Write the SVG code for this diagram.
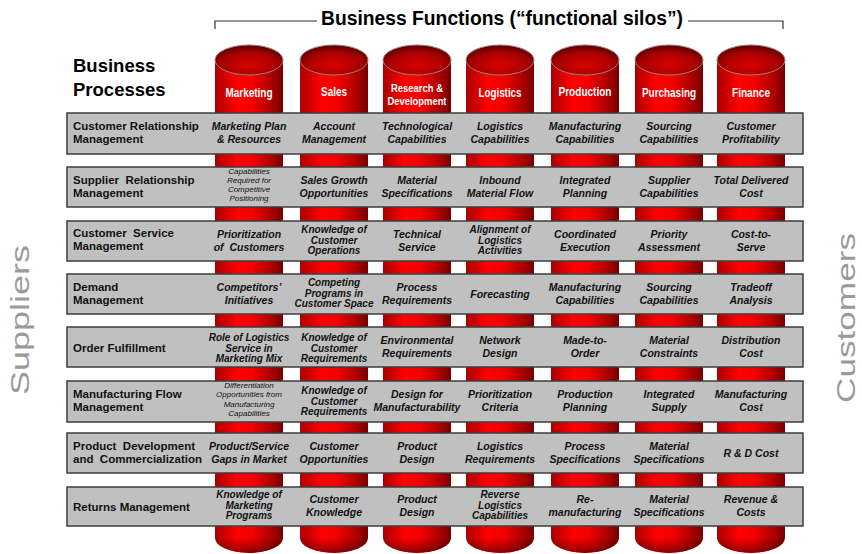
<svg xmlns="http://www.w3.org/2000/svg" xmlns:xlink="http://www.w3.org/1999/xlink" width="862" height="554" viewBox="0 0 862 554">
  <style>
    text { font-family: "Liberation Sans", Arial, sans-serif; }
    .hdr { font-size: 19.5px; font-weight: bold; fill: #000; }
    .side { font-size: 25px; fill: #9a9a9a; }
    .silo-lbl { font-size: 12.5px; font-weight: bold; fill: #fff; text-anchor: middle; }
    .bar { fill: #c0c0c0; stroke: #3c3c3c; stroke-width: 1.5; }
    .proc { font-size: 11.5px; font-weight: bold; fill: #111; }
    .cell { font-size: 10.5px; font-weight: bold; font-style: italic; fill: #111; text-anchor: middle; }
    .cell3 { font-size: 10px; font-weight: bold; font-style: italic; fill: #111; text-anchor: middle; }
    .tiny { font-size: 8px; font-style: italic; fill: #111; text-anchor: middle; }
    .bracket { fill: none; stroke: #333; stroke-width: 1.2; }
  </style>
  <defs>
    <linearGradient id="bodyGrad" x1="0" y1="0" x2="1" y2="0">
      <stop offset="0" stop-color="#a80000"/>
      <stop offset="0.32" stop-color="#ff0000"/>
      <stop offset="0.55" stop-color="#f20000"/>
      <stop offset="0.82" stop-color="#b00000"/>
      <stop offset="1" stop-color="#760000"/>
    </linearGradient>
    <radialGradient id="topGrad" cx="0.5" cy="0.65" r="0.62">
      <stop offset="0" stop-color="#d80000"/>
      <stop offset="0.65" stop-color="#a80000"/>
      <stop offset="1" stop-color="#5e0000"/>
    </radialGradient>
    <linearGradient id="baseShade" x1="0" y1="0" x2="0" y2="1">
      <stop offset="0" stop-color="#300000" stop-opacity="0"/>
      <stop offset="1" stop-color="#300000" stop-opacity="0.55"/>
    </linearGradient>
    <!-- one silo, centred on x = 0 -->
    <g id="silo">
      <rect x="-34" y="60" width="68" height="478" fill="url(#bodyGrad)"/>
      <path d="M-34,538 A34,15 0 0 0 34,538 Z" fill="url(#bodyGrad)"/>
      <path d="M-34,538 A34,15 0 0 0 34,538 Z" fill="url(#baseShade)"/>
      <ellipse cx="0" cy="60" rx="34" ry="15" fill="url(#topGrad)" stroke="#9a8080" stroke-width="1"/>
    </g>
  </defs>

  <rect width="862" height="554" fill="#fff"/>

  <!-- header bracket -->
  <g id="connectors">
    <path class="bracket" d="M215,29 V21 H317 M688,21 H783 V29"/>
  </g>
  <text class="hdr" x="502" y="25" text-anchor="middle" textLength="362" lengthAdjust="spacingAndGlyphs">Business Functions (“functional silos”)</text>

  <g id="title-processes">
    <text class="hdr" x="73" y="72" style="font-size:18.5px">Business</text>
    <text class="hdr" x="73" y="96" style="font-size:18.5px">Processes</text>
  </g>

  <!-- side labels -->
  <text class="side" transform="translate(29,320) rotate(-90)" text-anchor="middle" textLength="150" lengthAdjust="spacingAndGlyphs">Suppliers</text>
  <text class="side" transform="translate(855,318) rotate(-90)" text-anchor="middle" textLength="170" lengthAdjust="spacingAndGlyphs">Customers</text>

  <!-- functional silos -->
  <g id="silo-marketing"><use xlink:href="#silo" x="249"/><text class="silo-lbl" x="249" y="97" textLength="47" lengthAdjust="spacingAndGlyphs">Marketing</text></g>
  <g id="silo-sales"><use xlink:href="#silo" x="334"/><text class="silo-lbl" x="334" y="96" textLength="26" lengthAdjust="spacingAndGlyphs">Sales</text></g>
  <g id="silo-rnd"><use xlink:href="#silo" x="417"/><text class="silo-lbl" x="417" y="92" style="font-size:11.5px" textLength="52" lengthAdjust="spacingAndGlyphs">Research &amp;</text><text class="silo-lbl" x="417" y="104.5" style="font-size:11.5px" textLength="59" lengthAdjust="spacingAndGlyphs">Development</text></g>
  <g id="silo-logistics"><use xlink:href="#silo" x="500"/><text class="silo-lbl" x="500" y="97" textLength="43" lengthAdjust="spacingAndGlyphs">Logistics</text></g>
  <g id="silo-production"><use xlink:href="#silo" x="585"/><text class="silo-lbl" x="585" y="96" textLength="53" lengthAdjust="spacingAndGlyphs">Production</text></g>
  <g id="silo-purchasing"><use xlink:href="#silo" x="669"/><text class="silo-lbl" x="669" y="97" textLength="54" lengthAdjust="spacingAndGlyphs">Purchasing</text></g>
  <g id="silo-finance"><use xlink:href="#silo" x="751"/><text class="silo-lbl" x="751" y="97" textLength="38" lengthAdjust="spacingAndGlyphs">Finance</text></g>

  <!-- process rows -->
  <g id="row-crm">
    <rect class="bar" x="67" y="113" width="736" height="41"/>
    <text class="proc" x="73" y="130">Customer Relationship</text>
    <text class="proc" x="73" y="143">Management</text>
    <text class="cell" x="249" y="130">Marketing Plan</text><text class="cell" x="249" y="143">&amp; Resources</text>
    <text class="cell" x="334" y="130">Account</text><text class="cell" x="334" y="143">Management</text>
    <text class="cell" x="417" y="130">Technological</text><text class="cell" x="417" y="143">Capabilities</text>
    <text class="cell" x="500" y="130">Logistics</text><text class="cell" x="500" y="143">Capabilities</text>
    <text class="cell" x="585" y="130">Manufacturing</text><text class="cell" x="585" y="143">Capabilities</text>
    <text class="cell" x="669" y="130">Sourcing</text><text class="cell" x="669" y="143">Capabilities</text>
    <text class="cell" x="751" y="130">Customer</text><text class="cell" x="751" y="143">Profitability</text>
  </g>

  <g id="row-srm">
    <rect class="bar" x="67" y="167" width="736" height="40"/>
    <text class="proc" x="73" y="184" xml:space="preserve">Supplier  Relationship</text>
    <text class="proc" x="73" y="197">Management</text>
    <text class="tiny" x="249" y="174">Capabilities</text><text class="tiny" x="249" y="183">Required for</text><text class="tiny" x="249" y="192">Competitive</text><text class="tiny" x="249" y="201">Positioning</text>
    <text class="cell" x="334" y="184">Sales Growth</text><text class="cell" x="334" y="197">Opportunities</text>
    <text class="cell" x="417" y="184">Material</text><text class="cell" x="417" y="197">Specifications</text>
    <text class="cell" x="500" y="184">Inbound</text><text class="cell" x="500" y="197">Material Flow</text>
    <text class="cell" x="585" y="184">Integrated</text><text class="cell" x="585" y="197">Planning</text>
    <text class="cell" x="669" y="184">Supplier</text><text class="cell" x="669" y="197">Capabilities</text>
    <text class="cell" x="751" y="184">Total Delivered</text><text class="cell" x="751" y="197">Cost</text>
  </g>

  <g id="row-csm">
    <rect class="bar" x="67" y="221" width="736" height="40"/>
    <text class="proc" x="73" y="237" xml:space="preserve">Customer  Service</text>
    <text class="proc" x="73" y="250">Management</text>
    <text class="cell" x="249" y="238">Prioritization</text><text class="cell" x="249" y="251" xml:space="preserve">of  Customers</text>
    <text class="cell3" x="334" y="233">Knowledge of</text><text class="cell3" x="334" y="243.5">Customer</text><text class="cell3" x="334" y="254">Operations</text>
    <text class="cell" x="417" y="238">Technical</text><text class="cell" x="417" y="251">Service</text>
    <text class="cell3" x="500" y="233">Alignment of</text><text class="cell3" x="500" y="243.5">Logistics</text><text class="cell3" x="500" y="254">Activities</text>
    <text class="cell" x="585" y="238">Coordinated</text><text class="cell" x="585" y="251">Execution</text>
    <text class="cell" x="669" y="238">Priority</text><text class="cell" x="669" y="251">Assessment</text>
    <text class="cell" x="751" y="238">Cost-to-</text><text class="cell" x="751" y="251">Serve</text>
  </g>

  <g id="row-demand">
    <rect class="bar" x="67" y="274" width="736" height="40"/>
    <text class="proc" x="73" y="291">Demand</text>
    <text class="proc" x="73" y="304">Management</text>
    <text class="cell" x="249" y="291">Competitors’</text><text class="cell" x="249" y="304">Initiatives</text>
    <text class="cell3" x="334" y="286">Competing</text><text class="cell3" x="334" y="296.5">Programs in</text><text class="cell3" x="334" y="307">Customer Space</text>
    <text class="cell" x="417" y="291">Process</text><text class="cell" x="417" y="304">Requirements</text>
    <text class="cell" x="500" y="298">Forecasting</text>
    <text class="cell" x="585" y="291">Manufacturing</text><text class="cell" x="585" y="304">Capabilities</text>
    <text class="cell" x="669" y="291">Sourcing</text><text class="cell" x="669" y="304">Capabilities</text>
    <text class="cell" x="751" y="291">Tradeoff</text><text class="cell" x="751" y="304">Analysis</text>
  </g>

  <g id="row-order">
    <rect class="bar" x="67" y="327" width="736" height="40"/>
    <text class="proc" x="73" y="352">Order Fulfillment</text>
    <text class="cell3" x="249" y="341">Role of Logistics</text><text class="cell3" x="249" y="351.5">Service in</text><text class="cell3" x="249" y="362">Marketing Mix</text>
    <text class="cell3" x="334" y="341">Knowledge of</text><text class="cell3" x="334" y="351.5">Customer</text><text class="cell3" x="334" y="362">Requirements</text>
    <text class="cell" x="417" y="344">Environmental</text><text class="cell" x="417" y="357">Requirements</text>
    <text class="cell" x="500" y="344">Network</text><text class="cell" x="500" y="357">Design</text>
    <text class="cell" x="585" y="344">Made-to-</text><text class="cell" x="585" y="357">Order</text>
    <text class="cell" x="669" y="344">Material</text><text class="cell" x="669" y="357">Constraints</text>
    <text class="cell" x="751" y="344">Distribution</text><text class="cell" x="751" y="357">Cost</text>
  </g>

  <g id="row-mfg">
    <rect class="bar" x="67" y="381" width="736" height="41"/>
    <text class="proc" x="73" y="398">Manufacturing Flow</text>
    <text class="proc" x="73" y="411">Management</text>
    <text class="tiny" x="249" y="388">Differentiation</text><text class="tiny" x="249" y="397">Opportunities from</text><text class="tiny" x="249" y="406.5">Manufacturing</text><text class="tiny" x="249" y="416">Capabilities</text>
    <text class="cell3" x="334" y="394">Knowledge of</text><text class="cell3" x="334" y="404.5">Customer</text><text class="cell3" x="334" y="415">Requirements</text>
    <text class="cell" x="417" y="398">Design for</text><text class="cell" x="417" y="411">Manufacturability</text>
    <text class="cell" x="500" y="398">Prioritization</text><text class="cell" x="500" y="411">Criteria</text>
    <text class="cell" x="585" y="398">Production</text><text class="cell" x="585" y="411">Planning</text>
    <text class="cell" x="669" y="398">Integrated</text><text class="cell" x="669" y="411">Supply</text>
    <text class="cell" x="751" y="398">Manufacturing</text><text class="cell" x="751" y="411">Cost</text>
  </g>

  <g id="row-pdc">
    <rect class="bar" x="67" y="433" width="736" height="40"/>
    <text class="proc" x="73" y="450" xml:space="preserve">Product  Development</text>
    <text class="proc" x="73" y="463" xml:space="preserve">and  Commercialization</text>
    <text class="cell" x="249" y="450">Product/Service</text><text class="cell" x="249" y="463">Gaps in Market</text>
    <text class="cell" x="334" y="450">Customer</text><text class="cell" x="334" y="463">Opportunities</text>
    <text class="cell" x="417" y="450">Product</text><text class="cell" x="417" y="463">Design</text>
    <text class="cell" x="500" y="450">Logistics</text><text class="cell" x="500" y="463">Requirements</text>
    <text class="cell" x="585" y="450">Process</text><text class="cell" x="585" y="463">Specifications</text>
    <text class="cell" x="669" y="450">Material</text><text class="cell" x="669" y="463">Specifications</text>
    <text class="cell" x="751" y="457">R &amp; D Cost</text>
  </g>

  <g id="row-returns">
    <rect class="bar" x="67" y="487" width="736" height="39"/>
    <text class="proc" x="73" y="511">Returns Management</text>
    <text class="cell3" x="249" y="498">Knowledge of</text><text class="cell3" x="249" y="508.5">Marketing</text><text class="cell3" x="249" y="519">Programs</text>
    <text class="cell" x="334" y="503">Customer</text><text class="cell" x="334" y="516">Knowledge</text>
    <text class="cell" x="417" y="503">Product</text><text class="cell" x="417" y="516">Design</text>
    <text class="cell3" x="500" y="498">Reverse</text><text class="cell3" x="500" y="508.5">Logistics</text><text class="cell3" x="500" y="519">Capabilities</text>
    <text class="cell" x="585" y="503">Re-</text><text class="cell" x="585" y="516">manufacturing</text>
    <text class="cell" x="669" y="503">Material</text><text class="cell" x="669" y="516">Specifications</text>
    <text class="cell" x="751" y="503">Revenue &amp;</text><text class="cell" x="751" y="516">Costs</text>
  </g>
</svg>
